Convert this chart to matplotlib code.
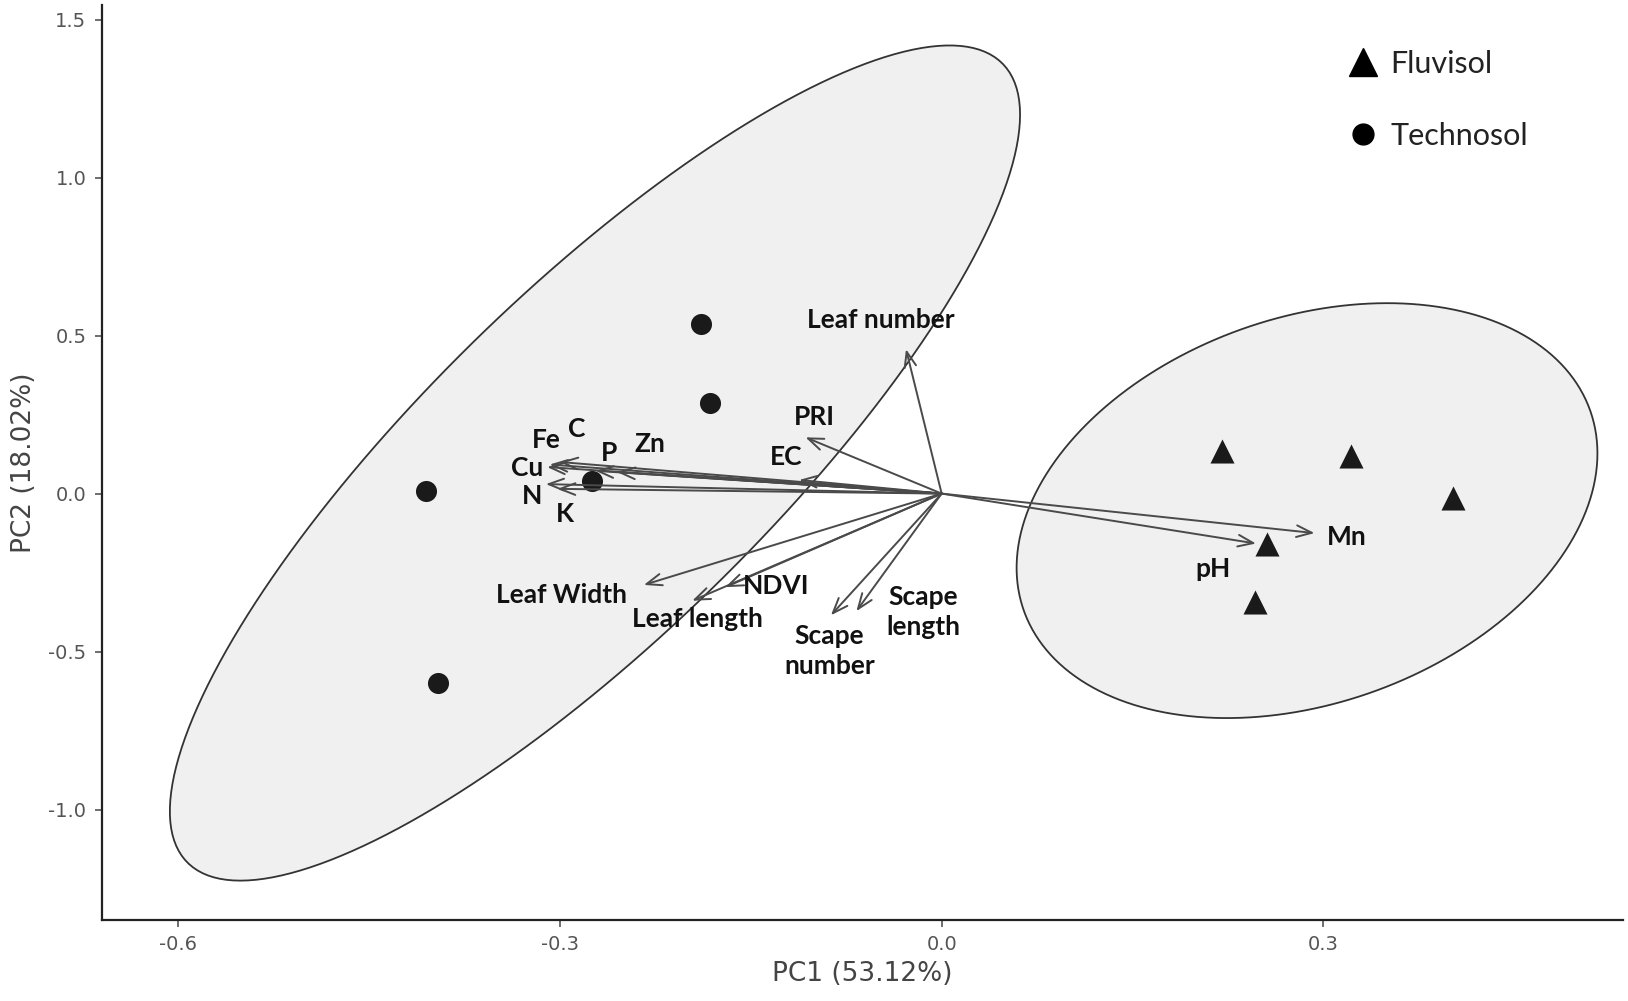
import numpy as np
import matplotlib
matplotlib.use("Agg")
import matplotlib.pyplot as plt
from matplotlib.lines import Line2D

# ---------------- data ----------------
techno_pc1 = [-0.189, -0.182, -0.405, -0.396, -0.275]
techno_pc2 = [0.536, 0.286, 0.007, -0.599, 0.039]
fluvi_pc1 = [0.220, 0.322, 0.402, 0.256, 0.246]
fluvi_pc2 = [0.135, 0.119, -0.013, -0.158, -0.342]

var_names = ["Leaf number", "PRI", "EC", "Zn", "P", "C", "Fe", "Cu", "N", "K",
             "Leaf Width", "NDVI", "Leaf length", "Scape\nnumber", "Scape\nlength",
             "Mn", "pH"]
load_pc1 = [-0.028, -0.107, -0.112, -0.255, -0.272, -0.300, -0.308, -0.310, -0.311, -0.302,
            -0.234, -0.170, -0.196, -0.087, -0.067, 0.293, 0.247]
load_pc2 = [0.457, 0.178, 0.043, 0.068, 0.072, 0.100, 0.092, 0.084, 0.030, 0.015,
            -0.289, -0.296, -0.339, -0.385, -0.372, -0.125, -0.158]
label_pc1 = [-0.048, -0.100, -0.122, -0.229, -0.261, -0.287, -0.311, -0.326, -0.322, -0.296,
             -0.299, -0.130, -0.192, -0.088, -0.0147, 0.318, 0.213]
label_pc2 = [0.549, 0.243, 0.115, 0.158, 0.128, 0.204, 0.168, 0.082, -0.007, -0.063,
             -0.322, -0.293, -0.398, -0.497, -0.375, -0.138, -0.240]

x_ticks = [-0.6, -0.3, 0.0, 0.3]
y_ticks = [-1.0, -0.5, 0.0, 0.5, 1.0, 1.5]
legend_labels = ["Fluvisol", "Technosol"]


# ------------- ellipse like ggplot2 stat_ellipse(type="t") -------------
def cov_trob(x, nu=5, maxit=25, tol=0.01):
    n, p = x.shape
    wt = np.ones(n)
    loc = x.mean(axis=0)
    w = np.sqrt(wt)
    X = x - loc
    for _ in range(maxit):
        w0 = w
        X = x - loc
        _, d, vt = np.linalg.svd(np.sqrt(w / w.sum())[:, None] * X, full_matrices=False)
        wX = X @ vt.T @ np.diag(1.0 / d)
        Q = (wX ** 2).sum(axis=1)
        w = (wt * (nu + p)) / (nu + Q)
        loc = (w[:, None] * x).sum(axis=0) / w.sum()
        if np.all(np.abs(w - w0) < tol):
            break
    sx = np.sqrt(w)[:, None] * X
    cov = sx.T @ sx / wt.sum()
    return cov, loc


def ellipse_path(xs, ys, level=0.95, segments=200):
    pts = np.column_stack([xs, ys])
    n = len(pts)
    cov, center = cov_trob(pts)
    dfd = n - 1
    fq = dfd / 2.0 * ((1 - level) ** (-2.0 / dfd) - 1)
    radius = np.sqrt(2 * fq)
    U = np.linalg.cholesky(cov).T
    ang = np.linspace(0, 2 * np.pi, segments)
    circ = np.column_stack([np.cos(ang), np.sin(ang)])
    e = center + radius * circ @ U
    return e[:, 0], e[:, 1]


fig = plt.figure(figsize=(16.28, 10.01), dpi=100)
ax = fig.add_axes([0.0625, 0.081, 0.9345, 0.914])

for xs, ys in [(techno_pc1, techno_pc2), (fluvi_pc1, fluvi_pc2)]:
    ex, ey = ellipse_path(xs, ys)
    ax.fill(ex, ey, facecolor="#f0f0f0", edgecolor="#333333", lw=1.3, zorder=1)

ax.scatter(techno_pc1, techno_pc2, marker="o", s=230, color="#1a1a1a", zorder=3, linewidths=0)
ax.scatter(fluvi_pc1, fluvi_pc2, marker="^", s=300, color="#1a1a1a", zorder=3, linewidths=0)

for name, vx, vy, lx, ly in zip(var_names, load_pc1, load_pc2, label_pc1, label_pc2):
    ax.annotate("", xy=(vx, vy), xytext=(0, 0),
                arrowprops=dict(arrowstyle="->,head_length=1.1,head_width=0.42",
                                color="#4a4a4a", lw=1.4, shrinkA=0, shrinkB=0),
                zorder=4)
    ax.text(lx, ly, name, ha="center", va="center", fontsize=19, fontweight="bold",
            family=["Lato", "DejaVu Sans"], color="#111111", linespacing=1.3, zorder=5)

ax.set_xlim(-0.660, 0.5355)
ax.set_ylim(-1.349, 1.546)
ax.set_xticks(x_ticks)
ax.set_xticklabels([f"{t:.1f}" for t in x_ticks])
ax.set_yticks(y_ticks)
ax.set_yticklabels([f"{t:.1f}" for t in y_ticks])
for s in ["top", "right"]:
    ax.spines[s].set_visible(False)
for s in ["left", "bottom"]:
    ax.spines[s].set_linewidth(1.6)
    ax.spines[s].set_color("#222222")
ax.tick_params(axis="both", length=5, width=1.2, color="#555555", labelcolor="#555555",
               labelsize=14, pad=6)
ax.set_xlabel("PC1 (53.12%)", fontsize=19, color="#444444", labelpad=5)
ax.set_ylabel("PC2 (18.02%)", fontsize=19, color="#444444", labelpad=8)

handles = [Line2D([], [], marker="^", ls="", color="#000000", markersize=20),
           Line2D([], [], marker="o", ls="", color="#000000", markersize=15)]
leg = ax.legend(handles, legend_labels, loc="upper left", bbox_to_anchor=(0.814, 0.951),
                frameon=False, labelspacing=1.45, handletextpad=0.15, handlelength=1.5,
                borderpad=0, borderaxespad=0,
                prop={"family": ["Lato", "DejaVu Sans"], "size": 22})
for t in leg.get_texts():
    t.set_color("#222222")

fig.savefig("out.png", dpi=100, facecolor="white")
